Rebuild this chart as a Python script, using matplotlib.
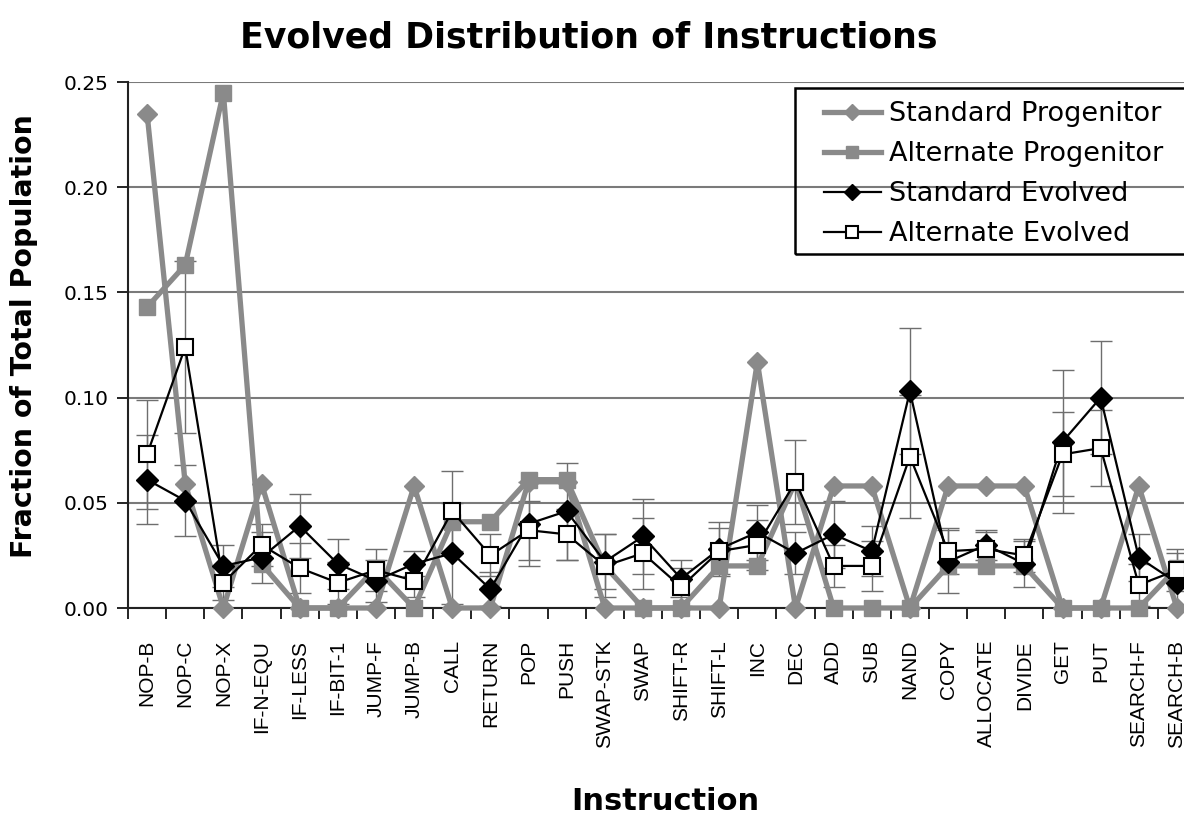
import matplotlib
matplotlib.use('Agg')
import matplotlib.pyplot as plt
from matplotlib.patches import Rectangle
import numpy as np

categories = ['NOP-B', 'NOP-C', 'NOP-X', 'IF-N-EQU', 'IF-LESS', 'IF-BIT-1',
              'JUMP-F', 'JUMP-B', 'CALL', 'RETURN', 'POP', 'PUSH', 'SWAP-STK',
              'SWAP', 'SHIFT-R', 'SHIFT-L', 'INC', 'DEC', 'ADD', 'SUB', 'NAND',
              'COPY', 'ALLOCATE', 'DIVIDE', 'GET', 'PUT', 'SEARCH-F', 'SEARCH-B']

std_prog = [0.235, 0.059, 0.0, 0.059, 0.0, 0.0, 0.0, 0.058, 0.0, 0.0, 0.060,
            0.060, 0.0, 0.0, 0.0, 0.0, 0.117, 0.0, 0.058, 0.058, 0.0, 0.058,
            0.058, 0.058, 0.0, 0.0, 0.058, 0.0]
alt_prog = [0.143, 0.163, 0.245, 0.021, 0.0, 0.0, 0.019, 0.0, 0.041, 0.041,
            0.061, 0.061, 0.020, 0.0, 0.0, 0.020, 0.020, 0.060, 0.0, 0.0, 0.0,
            0.020, 0.020, 0.020, 0.0, 0.0, 0.0, 0.019]
std_evo = [0.061, 0.051, 0.020, 0.024, 0.039, 0.021, 0.013, 0.021, 0.026,
           0.009, 0.040, 0.046, 0.022, 0.034, 0.014, 0.028, 0.036, 0.026,
           0.035, 0.027, 0.103, 0.022, 0.030, 0.021, 0.079, 0.100, 0.024, 0.012]
alt_evo = [0.073, 0.124, 0.012, 0.030, 0.019, 0.012, 0.018, 0.013, 0.046,
           0.025, 0.037, 0.035, 0.020, 0.026, 0.010, 0.027, 0.030, 0.060,
           0.020, 0.020, 0.072, 0.027, 0.028, 0.025, 0.073, 0.076, 0.011, 0.018]
std_evo_err = [0.021, 0.017, 0.010, 0.012, 0.015, 0.012, 0.010, 0.006, 0.024,
               0.008, 0.020, 0.023, 0.013, 0.018, 0.009, 0.013, 0.013, 0.010,
               0.016, 0.012, 0.030, 0.015, 0.007, 0.011, 0.034, 0.027, 0.011,
               0.014]
alt_evo_err = [0.026, 0.041, 0.008, 0.010, 0.012, 0.010, 0.010, 0.008, 0.019,
               0.010, 0.014, 0.012, 0.015, 0.017, 0.009, 0.011, 0.012, 0.020,
               0.010, 0.012, 0.029, 0.011, 0.008, 0.008, 0.020, 0.018, 0.010,
               0.010]

GRAY = '#8a8a8a'
ERR = '#6e6e6e'

fig = plt.figure(figsize=(11.84, 8.15), dpi=100)
W, H = 1184, 815
# plot area runs past the right edge of the figure, as in the original crop
ax = fig.add_axes([128 / W, 207 / H, 1068 / W, 526 / H])

x = np.arange(len(categories))

# error bars first so the markers sit on top
ax.errorbar(x, std_evo, yerr=std_evo_err, fmt='none', ecolor=ERR,
            elinewidth=1.0, capsize=8, capthick=1.0, zorder=2)
ax.errorbar(x, alt_evo, yerr=alt_evo_err, fmt='none', ecolor=ERR,
            elinewidth=1.0, capsize=8, capthick=1.0, zorder=2)

ax.plot(x, std_prog, color=GRAY, linewidth=3.8, marker='D', markersize=10.5,
        markerfacecolor=GRAY, markeredgecolor=GRAY,
        label='Standard Progenitor', zorder=3, clip_on=False)
ax.plot(x, alt_prog, color=GRAY, linewidth=3.8, marker='s', markersize=11,
        markerfacecolor=GRAY, markeredgecolor=GRAY,
        label='Alternate Progenitor', zorder=3, clip_on=False)
ax.plot(x, std_evo, color='black', linewidth=1.6, marker='D', markersize=11.5,
        markerfacecolor='black', markeredgecolor='black',
        label='Standard Evolved', zorder=4)
ax.plot(x, alt_evo, color='black', linewidth=1.6, marker='s', markersize=11,
        markerfacecolor='white', markeredgecolor='black', markeredgewidth=1.5,
        label='Alternate Evolved', zorder=5)

ax.set_xlim(-0.5, len(categories) - 0.5)
ax.set_ylim(0, 0.25)

ax.set_yticks(np.arange(0, 0.26, 0.05))
ax.set_yticklabels([f'{v:.2f}' for v in np.arange(0, 0.26, 0.05)],
                   fontsize=14.5, family='DejaVu Sans')
ax.set_xticks(x)
ax.set_xticklabels(categories, rotation=90, fontsize=15,
                   family='Liberation Sans')
ax.set_xticks(np.arange(-0.5, len(categories), 1.0), minor=True)
ax.tick_params(axis='x', which='major', length=0, pad=23)
ax.tick_params(axis='x', which='minor', length=8, width=1.2, direction='out')
ax.tick_params(axis='y', length=8, width=1.2, direction='out', pad=6)

ax.grid(True, axis='y', color='#7a7a7a', linewidth=1.5)
ax.set_axisbelow(True)
for side in ('top', 'right'):
    ax.spines[side].set_visible(False)
for side in ('left', 'bottom'):
    ax.spines[side].set_linewidth(1.5)
    ax.spines[side].set_color('#222222')

fig.text(589 / W, 1 - 38 / H, 'Evolved Distribution of Instructions',
         ha='center', va='center', fontsize=25, fontweight='bold',
         family='DejaVu Sans')
fig.text(24 / W, 1 - 336 / H, 'Fraction of Total Population', rotation=90,
         ha='center', va='center', fontsize=20.5, fontweight='bold',
         family='DejaVu Sans')
fig.text(665 / W, 1 - 801 / H, 'Instruction', ha='center', va='center',
         fontsize=22, fontweight='bold', family='DejaVu Sans')

# legend box is cut by the right edge in the original, so draw the frame
fig.patches.append(Rectangle((795 / W, 1 - 254 / H), 400 / W, 166 / H,
                             transform=fig.transFigure, fill=False,
                             edgecolor='black', linewidth=1.8))
leg = fig.legend(loc='upper left', bbox_to_anchor=(824 / W, 1 - 101 / H),
                 fontsize=19.5, frameon=False,
                 handlelength=2.1, handletextpad=0.3, labelspacing=0.52,
                 borderpad=0, borderaxespad=0, markerscale=0.75)
for t in leg.get_texts():
    t.set_family('DejaVu Sans')

fig.savefig('out.png', dpi=100)
